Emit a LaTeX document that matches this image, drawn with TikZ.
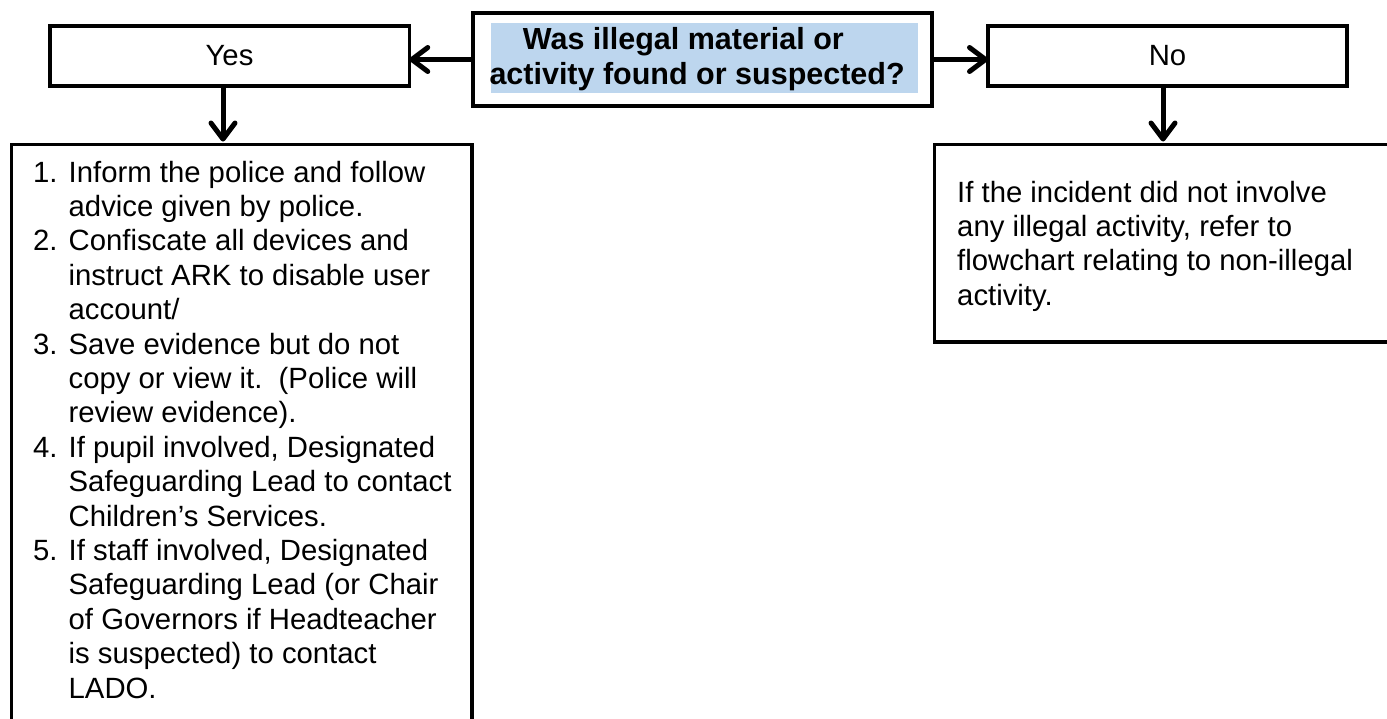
\documentclass[tikz,border=0pt]{standalone}
\usepackage{fontspec}
\setmainfont{Liberation Sans}
\usetikzlibrary{arrows.meta}
\definecolor{qblue}{HTML}{BDD6EE}
\begin{document}
\begin{tikzpicture}[x=1pt,y=-1pt,
  box/.style={draw=black,line width=3.5pt,inner sep=0pt,outer sep=0pt},
  lbl/.style={font=\fontsize{29.3}{34.4}\selectfont},
  arr/.style={line width=5pt,-{Straight Barb[length=16pt,width=24pt,round]}}]
\useasboundingbox (0,0) rectangle (1387,718);
\clip (0,0) rectangle (1387,718);
% boxes
\node[box,minimum width=359.5pt,minimum height=60pt,lbl] (yes) at (229.5,56) {Yes};
\node[box,minimum width=459pt,minimum height=93pt] (q) at (702.5,59.5) {};
\node[fill=qblue,minimum width=427pt,minimum height=70pt,inner sep=0pt] (qfill) at (704.5,58) {};
\node[anchor=base west,inner sep=0pt,font=\bfseries\fontsize{30.5}{35}\selectfont] (qtext) at (489.3,49)
  {\parbox[t]{440pt}{\hspace*{33.4pt}Was illegal material or\\activity found or suspected?}};
\node[box,minimum width=359pt,minimum height=60pt,lbl] (no) at (1167.5,56) {No};
\node[box,minimum width=460.5pt,minimum height=656pt] (lbox) at (241.75,472.5) {};
\node[box,minimum width=520pt,minimum height=197.5pt] (rbox) at (1194.5,243.25) {};
% texts
\node[anchor=base west,inner sep=0pt,lbl] (ltext) at (33,182) {\parbox[t]{440pt}{%
\makebox[35.5pt][l]{1.}Inform the police and follow\\
\hspace*{35.5pt}advice given by police.\\
\makebox[35.5pt][l]{2.}Confiscate all devices and\\
\hspace*{35.5pt}instruct ARK to disable user\\
\hspace*{35.5pt}account/\\
\makebox[35.5pt][l]{3.}Save evidence but do not\\
\hspace*{35.5pt}copy or view it.\ \ (Police will\\
\hspace*{35.5pt}review evidence).\\
\makebox[35.5pt][l]{4.}If pupil involved, Designated\\
\hspace*{35.5pt}Safeguarding Lead to contact\\
\hspace*{35.5pt}Children’s Services.\\
\makebox[35.5pt][l]{5.}If staff involved, Designated\\
\hspace*{35.5pt}Safeguarding Lead (or Chair\\
\hspace*{35.5pt}of Governors if Headteacher\\
\hspace*{35.5pt}is suspected) to contact\\
\hspace*{35.5pt}LADO.}};
\node[anchor=base west,inner sep=0pt,lbl] (rtext) at (957,202) {\parbox[t]{420pt}{%
If the incident did not involve\\
any illegal activity, refer to\\
flowchart relating to non-illegal\\
activity.}};
% connectors
\draw[arr] (q.west) -- (yes.east |- q.west);
\draw[arr] (q.east) -- (no.west |- q.east);
\draw[arr,shorten >=3pt] ([xshift=-6.5pt]yes.south) -- ([xshift=-6.5pt]yes.south |- lbox.north);
\draw[arr,shorten >=3pt] ([xshift=-4.5pt]no.south) -- ([xshift=-4.5pt]no.south |- rbox.north);
\end{tikzpicture}
\end{document}
